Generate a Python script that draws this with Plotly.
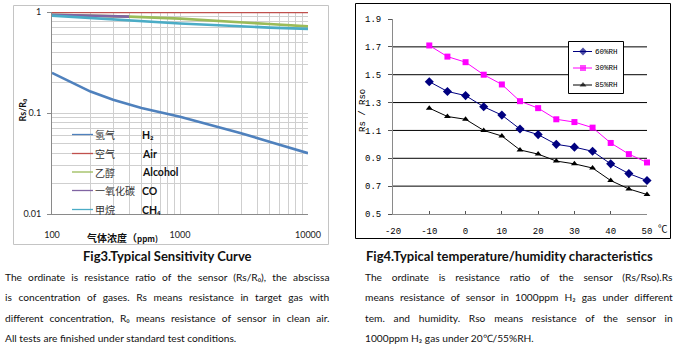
import json
import plotly.graph_objects as go

W, H = 679, 346

# ---- Fig3: sensitivity curves (Rs/R0 vs. gas concentration, ppm) ----
conc = [100, 200, 300, 500, 1000, 2000, 3000, 5000, 10000]
h2 = [0.25, 0.163, 0.135, 0.112, 0.092, 0.073, 0.063, 0.052, 0.040]
air_conc = [100, 10000]
air = [1.0, 1.0]
gas_conc = [100, 200, 400, 1000, 2000, 3000, 5000, 10000]
alcohol = [0.94, 0.92, 0.90, 0.86, 0.82, 0.79, 0.76, 0.72]
co_conc = [100, 200, 400]
co = [0.94, 0.92, 0.90]
ch4 = [0.92, 0.87, 0.82, 0.77, 0.74, 0.72, 0.70, 0.68]

gas_names_cn = ["氢气", "空气", "乙醇", "一氧化碳", "甲烷"]
gas_names_en = ["H₂", "Air", "Alcohol", "CO", "CH₄"]
gas_colors = ["#4F81BD", "#C0504D", "#9BBB59", "#8064A2", "#4BACC6"]

x1_ticks = [100, 1000, 10000]
x1_minor = [200, 300, 400, 500, 600, 700, 800, 900,
            2000, 3000, 4000, 5000, 6000, 7000, 8000, 9000]
y1_ticks = [0.01, 0.1, 1]
y1_ticktext = ["0.01", "0.1", "1"]
y1_minor = [0.02, 0.03, 0.04, 0.05, 0.06, 0.07, 0.08, 0.09,
            0.2, 0.3, 0.4, 0.5, 0.6, 0.7, 0.8, 0.9]

# ---- Fig4: temperature / humidity characteristics ----
temp = [-10, -5, 0, 5, 10, 15, 20, 25, 30, 35, 40, 45, 50]
rh60 = [1.45, 1.38, 1.35, 1.27, 1.21, 1.11, 1.07, 1.00, 0.98, 0.95, 0.86, 0.79, 0.74]
rh30 = [1.71, 1.63, 1.59, 1.50, 1.43, 1.31, 1.26, 1.18, 1.16, 1.12, 1.01, 0.93, 0.87]
rh85 = [1.26, 1.20, 1.18, 1.10, 1.06, 0.96, 0.93, 0.88, 0.86, 0.83, 0.74, 0.68, 0.64]
rh_names = ["60%RH", "30%RH", "85%RH"]
rh_colors = ["#000080", "#FF00FF", "#000000"]
rh_symbols = ["diamond", "square", "triangle-up"]

x2_ticks = [-20, -10, 0, 10, 20, 30, 40, 50]
y2_ticks = [0.5, 0.7, 0.9, 1.1, 1.3, 1.5, 1.7, 1.9]
y2_grid = [0.7, 0.9, 1.1, 1.3, 1.5, 1.7]

BODY = "Lato"
MONO = "Liberation Mono"
CJK = "Noto Sans CJK SC"
GRID = "#cfcfcf"
AXIS = "#8a8a8a"


def px_x(p):
    return p / W


def px_y(p):
    return 1 - p / H


fig = go.Figure()

# sensitivity curves
fig.add_trace(go.Scatter(x=conc, y=h2, mode="lines",
                         line=dict(color=gas_colors[0], width=2.6),
                         xaxis="x", yaxis="y"))
fig.add_trace(go.Scatter(x=air_conc, y=air, mode="lines",
                         line=dict(color=gas_colors[1], width=2.6),
                         xaxis="x", yaxis="y", cliponaxis=False))
fig.add_trace(go.Scatter(x=gas_conc, y=alcohol, mode="lines",
                         line=dict(color=gas_colors[2], width=2.6),
                         xaxis="x", yaxis="y"))
fig.add_trace(go.Scatter(x=co_conc, y=co, mode="lines",
                         line=dict(color=gas_colors[3], width=2.6),
                         xaxis="x", yaxis="y"))
fig.add_trace(go.Scatter(x=gas_conc, y=ch4, mode="lines",
                         line=dict(color=gas_colors[4], width=2.6),
                         xaxis="x", yaxis="y"))

# temperature / humidity curves
for vals, col, sym in [(rh60, rh_colors[0], rh_symbols[0]),
                       (rh30, rh_colors[1], rh_symbols[1]),
                       (rh85, rh_colors[2], rh_symbols[2])]:
    fig.add_trace(go.Scatter(x=temp, y=vals, mode="lines+markers",
                             line=dict(color=col, width=1),
                             marker=dict(symbol=sym, size=6 if sym != "diamond" else 7,
                                         color=col, line=dict(width=0)),
                             xaxis="x2", yaxis="y2", cliponaxis=False))

# ---- legend glyphs on a full-page pixel overlay (x3/y3) ----
leg1_rows = [134.5, 153.5, 172, 190.5, 209.5]
for yy, col in zip(leg1_rows, gas_colors):
    fig.add_trace(go.Scatter(x=[72, 93], y=[yy, yy], mode="lines",
                             line=dict(color=col, width=1.3),
                             xaxis="x3", yaxis="y3"))

# legend frame of Fig4
box = dict(x0=568.5, x1=623.5, y0=41.5, y1=93.5)
fig.add_trace(go.Scatter(x=[box["x0"], box["x1"], box["x1"], box["x0"], box["x0"]],
                         y=[box["y0"], box["y0"], box["y1"], box["y1"], box["y0"]],
                         mode="lines", fill="toself", fillcolor="white",
                         line=dict(color="black", width=1),
                         xaxis="x3", yaxis="y3"))
leg2_rows = [51.5, 68, 85]
for yy, col, sym in zip(leg2_rows, rh_colors, rh_symbols):
    fig.add_trace(go.Scatter(x=[573, 583, 592], y=[yy, yy, yy], mode="lines+markers",
                             line=dict(color=col, width=1),
                             marker=dict(symbol=sym, size=[0, 6, 0], color=col,
                                         line=dict(width=0)),
                             xaxis="x3", yaxis="y3"))

annotations = []
place_jobs = []


def note(text, x, y, size, family, color="#1a1a1a", xanchor="left", angle=0,
         justify_to=None):
    annotations.append(dict(text=text, x=x, y=y, xref="x3", yref="y3",
                            xanchor=xanchor, yanchor="middle", align="left",
                            showarrow=False, textangle=angle, borderpad=0,
                            font=dict(size=size, family=family, color=color)))
    if justify_to is not None:
        place_jobs.append([len(annotations) - 1, x, justify_to])


# Fig3 legend labels
for yy, cn, en in zip(leg1_rows, gas_names_cn, gas_names_en):
    note(cn, 93.5, yy, 10, CJK, color="#333333")
    note("<b>" + en + "</b>", 141, yy, 10.5, BODY, color="#111111")

# Fig3 axis titles
note("<b>气体浓度（<span style='font-size:8px'>ppm)</span></b>", 86, 237.5, 10, CJK,
     color="#111111")
note("<b>Rs/R₀</b>", 21.5, 110, 9, BODY, color="#111111",
     xanchor="center", angle=-90)

# Fig4 axis titles and legend labels
note("Rs / Rso", 363, 111, 9, MONO, color="#000000", xanchor="center", angle=-90)
note("℃", 663, 228, 9.5, CJK, color="#000000", xanchor="center")
for yy, name in zip(leg2_rows, rh_names):
    note(name, 594, yy, 7.5, MONO, color="#000000")

# captions
note("<b>Fig3.Typical Sensitivity Curve</b>", 167.5, 256, 13, BODY, color="#111111",
     xanchor="center")
note("<b>Fig4.Typical temperature/humidity characteristics</b>", 365, 256, 13, BODY,
     color="#111111")

left_par = [
    "The ordinate is resistance ratio of the sensor (Rs/R₀), the abscissa",
    "is concentration of gases. Rs means resistance in target gas with",
    "different concentration, R₀ means resistance of sensor in clean air.",
    "All tests are finished under standard test conditions.",
]
right_par = [
    "The ordinate is resistance ratio of the sensor (Rs/Rso).Rs",
    "means resistance of sensor in 1000ppm H₂ gas under different",
    "tem. and humidity. Rso means resistance of the sensor in",
    "1000ppm H₂ gas under 20℃/55%RH.",
]
par_rows = [276.5, 297, 317.5, 338]
for i, (yy, line) in enumerate(zip(par_rows, left_par)):
    note(line, 5, yy, 10.2, BODY, color="#111111", justify_to=329.5 if i < 3 else 0)
for i, (yy, line) in enumerate(zip(par_rows, right_par)):
    note(line, 365, yy, 10.2, BODY, color="#111111", justify_to=673 if i < 3 else 0)

# ---- shapes: outer frames and Fig4 grid ----
shapes = [
    dict(type="rect", xref="x3", yref="y3", x0=13.5, y0=5.5, x1=328.5, y1=244.5,
         line=dict(color="#c4c4c4", width=1), layer="below"),
    dict(type="rect", xref="x3", yref="y3", x0=355.5, y0=3.5, x1=670.5, y1=238.5,
         line=dict(color="#000000", width=1), layer="below"),
]
for v in y2_grid:
    shapes.append(dict(type="line", xref="x2 domain", yref="y2", x0=0, x1=1, y0=v, y1=v,
                       line=dict(color="#000000", width=1), layer="below"))

fig.update_layout(
    width=W, height=H, autosize=False,
    margin=dict(l=0, r=0, t=0, b=0, pad=0, autoexpand=False),
    paper_bgcolor="white", plot_bgcolor="rgba(0,0,0,0)",
    showlegend=False,
    annotations=annotations, shapes=shapes,
    xaxis=dict(type="log", range=[2, 4], domain=[px_x(52), px_x(308)], anchor="y",
               tickvals=x1_ticks, ticktext=[str(v) for v in x1_ticks],
               showgrid=True, gridcolor=GRID, gridwidth=1,
               minor=dict(tickvals=x1_minor, showgrid=True, gridcolor=GRID, ticks=""),
               showline=True, linecolor=AXIS, linewidth=1, ticks="",
               ticklabelstandoff=12, zeroline=False, automargin=False,
               tickfont=dict(family=BODY, size=9, color="#222222")),
    yaxis=dict(type="log", range=[-2, 0], domain=[px_y(214), px_y(12)], anchor="x",
               tickvals=y1_ticks, ticktext=y1_ticktext,
               showgrid=True, gridcolor=GRID, gridwidth=1,
               minor=dict(tickvals=y1_minor, showgrid=True, gridcolor=GRID, ticks=""),
               showline=True, linecolor=AXIS, linewidth=1,
               ticks="outside", ticklen=4, tickcolor=AXIS,
               ticklabelstandoff=4, zeroline=False, automargin=False,
               tickfont=dict(family=BODY, size=9, color="#222222")),
    xaxis2=dict(range=[-20, 50], domain=[px_x(393), px_x(647)], anchor="y2",
                tickvals=x2_ticks, ticktext=[str(v) for v in x2_ticks],
                showgrid=False, zeroline=False, automargin=False,
                showline=True, linecolor=AXIS, linewidth=1,
                ticks="inside", ticklen=3, tickcolor="#555555",
                ticklabelstandoff=8,
                tickfont=dict(family=MONO, size=9, color="#000000")),
    yaxis2=dict(range=[0.5, 1.9], domain=[px_y(214), px_y(19)], anchor="x2",
                tickvals=y2_ticks, ticktext=["%.1f" % v for v in y2_ticks],
                showgrid=False, zeroline=False, automargin=False,
                showline=True, linecolor=AXIS, linewidth=1,
                ticks="outside", ticklen=4, tickcolor="#555555",
                ticklabelstandoff=5,
                tickfont=dict(family=MONO, size=9, color="#000000")),
    xaxis3=dict(range=[0, W], domain=[0, 1], anchor="y3", visible=False,
                fixedrange=True, automargin=False),
    yaxis3=dict(range=[H, 0], domain=[0, 1], anchor="x3", visible=False,
                fixedrange=True, automargin=False),
)

# Paragraph lines are pinned to their left edge; the first three lines of each
# paragraph are justified to the column width by widening the word spacing.
place_js = """
var gd = document.getElementById('{plot_id}');
var jobs = JOBS;
function placeLines() {
  var root = gd.getBoundingClientRect();
  jobs.forEach(function (j) {
    var g = gd.querySelector('g.annotation[data-index="' + j[0] + '"]');
    if (!g) return;
    var t = g.querySelector('text.annotation-text');
    if (!t) return;
    t.style.wordSpacing = '0px';
    t.removeAttribute('transform');
    if (j[2] > 0) {
      var n = (t.textContent.match(/[ \\u00a0]/g) || []).length;
      if (n) {
        var r = t.getBoundingClientRect();
        t.style.wordSpacing = (((j[2] - j[1]) - r.width) / n) + 'px';
      }
    }
    var r2 = t.getBoundingClientRect();
    var dx = (j[1] + root.left) - r2.left;
    t.setAttribute('transform', 'translate(' + dx + ',0)');
  });
}
placeLines();
gd.on('plotly_afterplot', placeLines);
""".replace("JOBS", json.dumps(place_jobs))

fig.write_html("out.html", post_script=place_js)
